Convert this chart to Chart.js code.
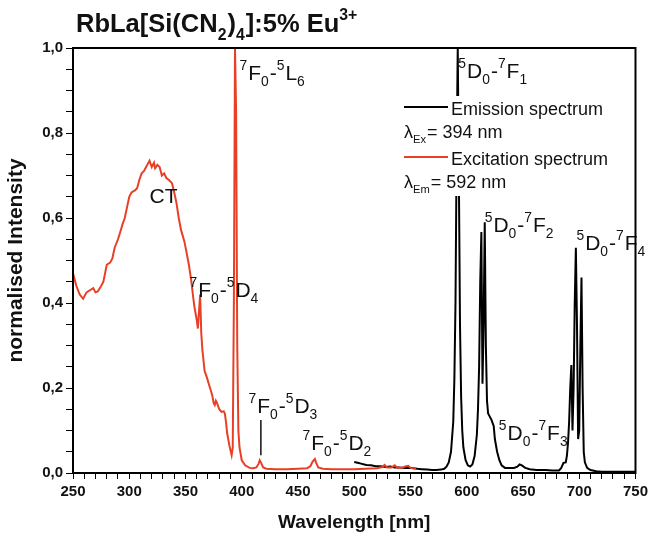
<!DOCTYPE html>
<html>
<head>
<meta charset="utf-8">
<script src="https://cdn.jsdelivr.net/npm/chart.js@4"></script>
<style>
  body { margin: 0; background: #fff; }
  #wrap { width: 652px; height: 537px; }
</style>
</head>
<body>
<div id="wrap"><canvas id="spectrumChart" width="652" height="537"></canvas></div>
<script>
// excitation spectrum (red), lambda_Em = 592 nm
const exWl = [250, 253, 256, 259, 262, 265, 268, 270, 272, 275, 277, 280, 283, 285, 287, 290, 292, 294, 296, 298,
  300, 302, 305, 307, 309, 311, 313, 315, 316, 318, 320, 322, 323, 325, 327, 329, 331, 333, 335, 338,
  340, 342, 344, 346, 349, 351, 353, 355, 357, 358, 360, 361, 362, 363, 364, 365, 367, 369, 371, 373,
  374, 375, 376, 377, 378, 380, 382, 384, 385, 386, 387, 389, 391, 392, 393, 394, 395, 396, 397, 398,
  400, 403, 407, 410, 413, 415, 416, 417, 419, 422, 430, 440, 450, 458, 461, 463, 465, 466, 468, 472,
  480, 490, 500, 510, 520, 525, 527, 529, 533, 536, 538, 542, 546, 548, 550, 555];
const exInt = [0.47, 0.44, 0.42, 0.41, 0.425, 0.43, 0.435, 0.425, 0.427, 0.44, 0.45, 0.49, 0.495, 0.505, 0.53, 0.55, 0.567, 0.585, 0.60, 0.625,
  0.65, 0.66, 0.665, 0.67, 0.69, 0.705, 0.71, 0.72, 0.725, 0.735, 0.72, 0.73, 0.717, 0.725, 0.72, 0.70, 0.705, 0.694, 0.69, 0.682,
  0.66, 0.635, 0.60, 0.572, 0.545, 0.518, 0.49, 0.455, 0.41, 0.39, 0.36, 0.34, 0.38, 0.42, 0.33, 0.29, 0.24, 0.225, 0.207, 0.19,
  0.18, 0.165, 0.16, 0.17, 0.165, 0.15, 0.144, 0.145, 0.14, 0.12, 0.094, 0.065, 0.042, 0.06, 0.4, 1.0, 0.85, 0.3, 0.1, 0.06,
  0.03, 0.018, 0.012, 0.011, 0.013, 0.022, 0.03, 0.025, 0.013, 0.01, 0.009, 0.009, 0.01, 0.011, 0.016, 0.027, 0.033, 0.025, 0.013, 0.01,
  0.009, 0.009, 0.009, 0.01, 0.011, 0.014, 0.019, 0.013, 0.013, 0.018, 0.013, 0.012, 0.016, 0.017, 0.012, 0.01];

// emission spectrum (black), lambda_Ex = 394 nm
const emWl = [500, 503, 506, 509, 511, 515, 519, 523, 528, 532, 536, 540, 545, 551, 556, 560, 565, 569, 573, 577,
  580, 582, 584, 586, 588, 589, 590, 591, 592, 593, 594, 595, 596, 597, 599, 601, 603, 605, 607, 609,
  610, 611, 612, 613, 614, 615, 616, 617, 618, 619, 620, 622, 624, 625, 627, 629, 631, 634, 638, 642,
  645, 647, 649, 652, 656, 662, 670, 676, 682, 684, 686, 688, 689, 690, 691, 692, 693, 694, 695, 696,
  697, 698, 699, 700, 701, 702, 703, 704, 705, 707, 710, 715, 720, 730, 740, 750];
const emInt = [0.026, 0.024, 0.022, 0.02, 0.019, 0.018, 0.016, 0.016, 0.014, 0.015, 0.013, 0.013, 0.012, 0.012, 0.01, 0.009, 0.008, 0.007, 0.007, 0.008,
  0.01, 0.015, 0.025, 0.05, 0.12, 0.22, 0.4, 0.75, 1.0, 0.7, 0.35, 0.18, 0.1, 0.06, 0.03, 0.018, 0.015, 0.02, 0.04, 0.09,
  0.15, 0.25, 0.45, 0.567, 0.21, 0.35, 0.59, 0.3, 0.17, 0.14, 0.135, 0.125, 0.11, 0.08, 0.05, 0.03, 0.018, 0.012, 0.012, 0.012,
  0.015, 0.02, 0.018, 0.012, 0.009, 0.007, 0.007, 0.006, 0.006, 0.012, 0.024, 0.025, 0.04, 0.07, 0.12, 0.2, 0.254, 0.1, 0.2, 0.4,
  0.53, 0.35, 0.08, 0.1, 0.3, 0.46, 0.2, 0.05, 0.025, 0.012, 0.007, 0.004, 0.003, 0.003, 0.003, 0.003];

// transition labels: ^ = superscript, _ = subscript
const notes = [
  { text: 'CT', x: 318, y: 0.635 },
  { text: '^7F_0-^5L_6', x: 398, y: 0.925 },
  { text: '^5D_0-^7F_1', x: 592.5, y: 0.93 },
  { text: '^5D_0-^7F_2', x: 616, y: 0.567 },
  { text: '^5D_0-^7F_4', x: 697.5, y: 0.525 },
  { text: '^5D_0-^7F_3', x: 628.5, y: 0.078 },
  { text: '^7F_0-^5D_4', x: 353.5, y: 0.414 },
  { text: '^7F_0-^5D_3', x: 406, y: 0.141 },
  { text: '^7F_0-^5D_2', x: 454, y: 0.054 }
];

const FONT = '"Liberation Sans", Arial, sans-serif';
const RED = 'rgb(232, 64, 38)';

function parseRich(s) {
  const out = [];
  let i = 0, buf = '';
  while (i < s.length) {
    const c = s[i];
    if (c === '^' || c === '_') {
      if (buf) { out.push({ t: buf, m: 'n' }); buf = ''; }
      let t;
      if (s[i + 1] === '{') {
        const j = s.indexOf('}', i);
        t = s.slice(i + 2, j);
        i = j + 1;
      } else {
        t = s[i + 1];
        i += 2;
      }
      out.push({ t: t, m: c === '^' ? 'sup' : 'sub' });
    } else {
      buf += c;
      i++;
    }
  }
  if (buf) out.push({ t: buf, m: 'n' });
  return out;
}

function drawRich(ctx, s, x, y, size, weight, ratio) {
  const w = weight || 'normal';
  const r = ratio || 0.62;
  ctx.textAlign = 'left';
  ctx.textBaseline = 'alphabetic';
  parseRich(s).forEach(p => {
    let fs = size, dy = 0;
    if (p.m === 'sup') { fs = size * r; dy = -size * 0.48; }
    if (p.m === 'sub') { fs = size * r; dy = size * 0.3; }
    ctx.font = w + ' ' + fs + 'px ' + FONT;
    ctx.fillText(p.t, x, y + dy);
    x += ctx.measureText(p.t).width + (p.m === 'n' ? 0 : 1);
  });
}

const decorations = {
  id: 'decorations',
  afterDatasetsDraw(chart) {
    const ctx = chart.ctx;
    const xs = chart.scales.x, ys = chart.scales.y;
    const a = chart.chartArea;
    ctx.save();
    ctx.fillStyle = '#111';

    notes.forEach(n => {
      drawRich(ctx, n.text, xs.getPixelForValue(n.x), ys.getPixelForValue(n.y), 21, 'normal', 0.66);
    });

    // marker line under 7F0-5D3
    ctx.strokeStyle = '#111';
    ctx.lineWidth = 1.5;
    ctx.beginPath();
    ctx.moveTo(xs.getPixelForValue(417), ys.getPixelForValue(0.125));
    ctx.lineTo(xs.getPixelForValue(417), ys.getPixelForValue(0.042));
    ctx.stroke();

    // legend box
    const lx = 402, ly = 96;
    ctx.fillStyle = '#fff';
    ctx.fillRect(lx, ly, 228, 100);
    ctx.lineWidth = 2;
    ctx.strokeStyle = '#000';
    ctx.beginPath(); ctx.moveTo(lx + 2, 107); ctx.lineTo(lx + 46, 107); ctx.stroke();
    ctx.strokeStyle = RED;
    ctx.beginPath(); ctx.moveTo(lx + 2, 157); ctx.lineTo(lx + 46, 157); ctx.stroke();
    ctx.fillStyle = '#111';
    drawRich(ctx, 'Emission spectrum', lx + 49, 115, 18);
    drawRich(ctx, 'λ_{Ex}= 394 nm', lx + 2, 138, 18);
    drawRich(ctx, 'Excitation spectrum', lx + 49, 165, 18);
    drawRich(ctx, 'λ_{Em}= 592 nm', lx + 2, 188, 18);

    // frame
    ctx.strokeStyle = '#000';
    ctx.lineWidth = 2;
    ctx.strokeRect(a.left, a.top, a.right - a.left, a.bottom - a.top);

    // title
    ctx.fillStyle = '#111';
    drawRich(ctx, 'RbLa[Si(CN_2)_4]:5% Eu^{3+}', 76, 32, 25.5, 'bold');
    ctx.restore();
  }
};

const ctx = document.getElementById('spectrumChart').getContext('2d');
const spectrumChart = new Chart(ctx, {
  type: 'line',
  data: {
    datasets: [{
      label: 'Excitation spectrum',
      data: exWl.map((w, i) => ({ x: w, y: exInt[i] })),
      borderColor: RED,
      borderWidth: 2,
      pointRadius: 0,
      tension: 0
    }, {
      label: 'Emission spectrum',
      data: emWl.map((w, i) => ({ x: w, y: emInt[i] })),
      borderColor: '#000',
      borderWidth: 2,
      pointRadius: 0,
      tension: 0
    }]
  },
  options: {
    responsive: false,
    animation: false,
    layout: { padding: { top: 48, right: 15, left: 0, bottom: 0 } },
    plugins: {
      legend: { display: false },
      tooltip: { enabled: false }
    },
    scales: {
      x: {
        type: 'linear',
        min: 250,
        max: 750,
        afterFit: function(scale) { scale.height = 64; },
        ticks: {
          stepSize: 10,
          autoSkip: false,
          maxRotation: 0,
          color: '#111',
          padding: 4,
          font: { family: FONT, size: 15, weight: 'bold' },
          callback: function(value) {
            return value % 50 === 0 ? String(value) : '';
          }
        },
        grid: { drawOnChartArea: false, tickLength: 6, color: '#000', tickColor: '#000' },
        border: { color: '#000', width: 2 },
        title: {
          display: true,
          text: 'Wavelength [nm]',
          color: '#111',
          padding: { top: 0, bottom: 3 },
          font: { family: FONT, size: 19, weight: 'bold' }
        }
      },
      y: {
        min: 0,
        max: 1,
        afterFit: function(scale) { scale.width = 73; },
        ticks: {
          stepSize: 0.05,
          autoSkip: false,
          color: '#111',
          padding: 3,
          font: { family: FONT, size: 15, weight: 'bold' },
          callback: function(value) {
            const v = Math.round(value * 100);
            return v % 20 === 0 ? (v / 100).toFixed(1).replace('.', ',') : '';
          }
        },
        grid: { drawOnChartArea: false, tickLength: 7, color: '#000', tickColor: '#000' },
        border: { color: '#000', width: 2 },
        title: {
          display: true,
          text: 'normalised Intensity',
          color: '#111',
          padding: { top: 4, bottom: 0 },
          font: { family: FONT, size: 21, weight: 'bold' }
        }
      }
    }
  },
  plugins: [decorations]
});
</script>
</body>
</html>
